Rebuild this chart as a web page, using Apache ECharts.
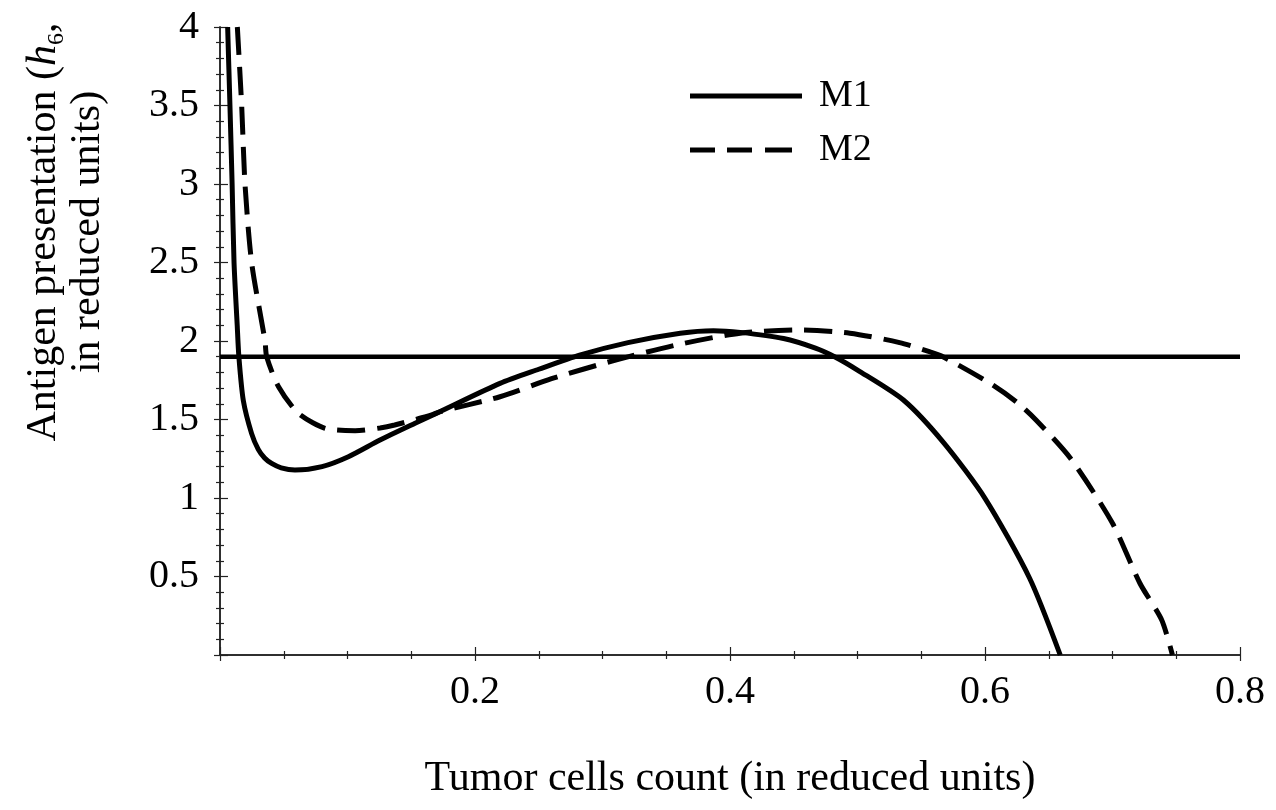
<!DOCTYPE html>
<html>
<head>
<meta charset="utf-8">
<script src="https://cdn.jsdelivr.net/npm/echarts@6/dist/echarts.min.js"></script>
<style>
  html, body { margin: 0; padding: 0; background: #fff; }
  #chart { width: 1276px; height: 810px; }
</style>
</head>
<body>
<div id="chart"></div>
<script>
// Antigen presentation h6 versus tumour cell count for models M1 and M2
const seriesNames = ['M1', 'M2'];

// M1: [tumour cells, h6]
const m1 = [
  [0.006, 4.0], [0.0078, 3.5], [0.0095, 3.0], [0.011, 2.5], [0.0135, 2.1],
  [0.0148, 1.9], [0.0183, 1.62], [0.0248, 1.41], [0.030, 1.31], [0.035, 1.255],
  [0.0405, 1.22], [0.048, 1.192], [0.0588, 1.178], [0.08, 1.2], [0.1007, 1.263],
  [0.1255, 1.369], [0.153, 1.476], [0.1725, 1.55], [0.2196, 1.73], [0.25, 1.82],
  [0.282, 1.91], [0.32, 1.99], [0.361, 2.05], [0.387, 2.066], [0.408, 2.055],
  [0.442, 2.016], [0.467, 1.955], [0.482, 1.9], [0.50, 1.815], [0.536, 1.624],
  [0.568, 1.348], [0.600, 0.998], [0.635, 0.489], [0.659, 0.0]
];

// M2: [tumour cells, h6]
const m2 = [
  [0.0136, 4.0], [0.017, 3.5], [0.0196, 3.0], [0.0248, 2.5], [0.0353, 2.0],
  [0.0366, 1.9], [0.0458, 1.71], [0.0614, 1.54], [0.0824, 1.444], [0.106, 1.429],
  [0.1255, 1.446], [0.137, 1.465], [0.166, 1.529], [0.1725, 1.55], [0.2196, 1.645],
  [0.26, 1.76], [0.311, 1.88], [0.361, 1.98], [0.408, 2.05], [0.455, 2.07],
  [0.494, 2.05], [0.533, 1.99], [0.557, 1.93], [0.567, 1.9], [0.604, 1.73],
  [0.625, 1.61], [0.64, 1.497], [0.667, 1.253], [0.70, 0.839], [0.7215, 0.457],
  [0.7386, 0.223], [0.747, 0.0]
];

// constant reference level
const thresholdLevel = 1.9;
const thresholdLine = [[0, thresholdLevel], [0.8, thresholdLevel]];

const xTicks = { min: 0, max: 0.8, interval: 0.2 };
const yTicks = { min: 0, max: 4, interval: 0.5 };

const FONT = 'Liberation Serif';
const INK = '#000';
const DASH = [28, 12];

// legend keys: a solid bar and three dashes
const ICON_SOLID = 'path://M0,0H112V5H0Z';
const ICON_DASHED = 'path://M0,0H25V5H0Z M37,0H62V5H37Z M75,0H102V5H75Z M112,0L112,5Z';

function tickFmt(v) {
  if (Math.abs(v) < 1e-9) return '';
  return String(+v.toFixed(2));
}

const frameLine = { show: true, lineStyle: { color: '#222', width: 1.5 } };
const tickLine = { color: '#222', width: 1.2 };

const chart = echarts.init(document.getElementById('chart'));
chart.setOption({
  backgroundColor: '#fff',
  animation: false,
  grid: { left: 220, right: 36, top: 27, bottom: 155, containLabel: false },
  legend: {
    data: [
      { name: seriesNames[0], icon: ICON_SOLID },
      { name: seriesNames[1], icon: ICON_DASHED }
    ],
    orient: 'vertical',
    left: 685,
    top: 72,
    itemWidth: 112,
    itemHeight: 5,
    itemGap: 16,
    itemStyle: { color: INK, borderWidth: 0 },
    lineStyle: { width: 0 },
    textStyle: { fontFamily: FONT, fontSize: 38, color: INK, padding: [0, 0, 0, 12] }
  },
  xAxis: [
    {
      type: 'value', position: 'bottom',
      min: xTicks.min, max: xTicks.max, interval: xTicks.interval,
      axisLine: frameLine,
      axisTick: { show: true, inside: true, length: 8, lineStyle: tickLine },
      minorTick: { show: true, splitNumber: 4, length: 4, lineStyle: tickLine },
      splitLine: { show: false },
      axisLabel: { formatter: tickFmt, fontFamily: FONT, fontSize: 40, color: INK, margin: 17 },
      name: 'Tumor cells count (in reduced units)',
      nameLocation: 'middle',
      nameGap: 103,
      nameTextStyle: { fontFamily: FONT, fontSize: 42, color: INK }
    },
    {
      type: 'value', position: 'top',
      min: xTicks.min, max: xTicks.max, interval: xTicks.interval,
      axisLine: frameLine,
      axisTick: { show: true, inside: true, length: 6, lineStyle: tickLine },
      minorTick: { show: true, splitNumber: 4, length: 4, lineStyle: tickLine },
      splitLine: { show: false },
      axisLabel: { show: false }
    }
  ],
  yAxis: [
    {
      type: 'value', position: 'left',
      min: yTicks.min, max: yTicks.max, interval: yTicks.interval,
      axisLine: frameLine,
      axisTick: { show: true, inside: true, length: 8, lineStyle: tickLine },
      minorTick: { show: true, splitNumber: 5, length: 4, lineStyle: tickLine },
      splitLine: { show: false },
      axisLabel: { formatter: tickFmt, fontFamily: FONT, fontSize: 40, color: INK, margin: 21 }
    },
    {
      type: 'value', position: 'right',
      min: yTicks.min, max: yTicks.max, interval: yTicks.interval,
      axisLine: frameLine,
      axisTick: { show: true, inside: true, length: 6, lineStyle: tickLine },
      minorTick: { show: true, splitNumber: 5, length: 4, lineStyle: tickLine },
      splitLine: { show: false },
      axisLabel: { show: false }
    }
  ],
  graphic: [
    {
      type: 'text',
      x: 44, y: 232,
      rotation: Math.PI / 2,
      style: {
        text: '{a|Antigen presentation (}{i|h}{s|6}{a|,}',
        fontFamily: FONT,
        align: 'center',
        verticalAlign: 'middle',
        fill: INK,
        rich: {
          a: { fontFamily: FONT, fontSize: 42, fill: INK, lineHeight: 50, verticalAlign: 'middle' },
          i: { fontFamily: FONT, fontSize: 42, fontStyle: 'italic', fill: INK, lineHeight: 50, verticalAlign: 'middle' },
          s: { fontFamily: FONT, fontSize: 24, fill: INK, lineHeight: 50, verticalAlign: 'bottom', padding: [16, 0, 0, 0] }
        }
      }
    },
    {
      type: 'text',
      x: 88, y: 232,
      rotation: Math.PI / 2,
      style: {
        text: 'in reduced units)',
        fontFamily: FONT,
        fontSize: 42,
        align: 'center',
        verticalAlign: 'middle',
        fill: INK
      }
    }
  ],
  series: [
    {
      name: 'M1', type: 'line', data: m1, symbol: 'none', smooth: 0.25,
      clip: true,
      lineStyle: { color: INK, width: 5, type: 'solid' },
      itemStyle: { color: INK }
    },
    {
      name: 'M2', type: 'line', data: m2, symbol: 'none', smooth: 0.25,
      clip: true,
      lineStyle: { color: INK, width: 5, type: DASH, cap: 'butt' },
      itemStyle: { color: INK }
    },
    {
      name: 'level', type: 'line', data: thresholdLine, symbol: 'none',
      lineStyle: { color: INK, width: 4.5 },
      itemStyle: { color: INK }
    }
  ]
});
</script>
</body>
</html>
